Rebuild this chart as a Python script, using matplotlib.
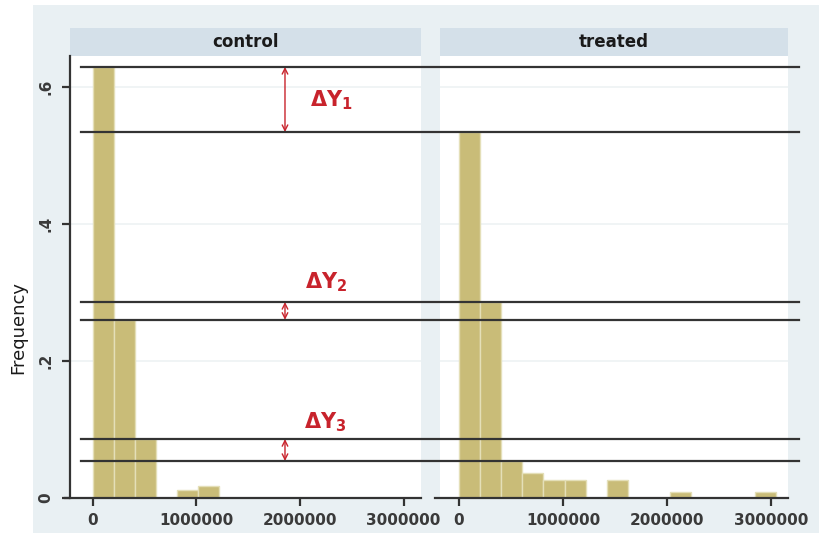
import matplotlib

matplotlib.use("Agg")
import matplotlib.pyplot as plt
from matplotlib.patches import Rectangle, FancyArrowPatch
from matplotlib.lines import Line2D
from matplotlib.transforms import blended_transform_factory

# histogram data (bin width)
bin_width = 203000
control_freq = [0.629, 0.260, 0.086, 0.0, 0.011, 0.017]
treated_freq = [0.534, 0.286, 0.054, 0.036, 0.026, 0.026, 0.0, 0.026,
                0.0, 0.0, 0.009, 0.0, 0.0, 0.0, 0.009]
panel_titles = ["control", "treated"]
x_ticks = [0, 1000000, 2000000, 3000000]
y_ticks = [0, 0.2, 0.4, 0.6]
y_ticklabels = ["0", ".2", ".4", ".6"]

# pairs of reference levels: (control bar, treated bar)
ref_pairs = [(control_freq[0], treated_freq[0]),
             (treated_freq[1], control_freq[1]),
             (control_freq[2], treated_freq[2])]
delta_labels = [r"$\mathbf{\Delta Y_1}$", r"$\mathbf{\Delta Y_2}$", r"$\mathbf{\Delta Y_3}$"]

W, H = 819, 533
BG = "#e9f0f3"
STRIP = "#d4e0e9"
BAR = "#c9bc78"
RED = "#c8232c"
DARK = "#333333"

fig = plt.figure(figsize=(W / 100, H / 100), dpi=100)
fig.patch.set_facecolor("white")
fig.patches.append(Rectangle((33 / W, 0), 1 - 33 / W, (H - 5) / H,
                             transform=fig.transFigure, facecolor=BG,
                             edgecolor="none", zorder=-10))

ax_bottom = (H - 498) / H
ax_height = (498 - 56) / H
ax1 = fig.add_axes([70 / W, ax_bottom, 351 / W, ax_height])
ax2 = fig.add_axes([440 / W, ax_bottom, 348 / W, ax_height])
ax1.set_xlim(-0.222e6, 3.169e6)
ax2.set_xlim(-0.183e6, 3.163e6)

for ax, freq, title in zip([ax1, ax2], [control_freq, treated_freq], panel_titles):
    edges = [i * bin_width for i in range(len(freq))]
    ax.bar(edges, freq, width=bin_width, align="edge", color=BAR,
           edgecolor="#e4dfb8", linewidth=1.0, zorder=2)
    ax.set_ylim(0, 0.645)
    ax.set_facecolor("white")
    for yt in y_ticks[1:]:
        ax.axhline(yt, color="#edf2f4", lw=1.2, zorder=1)
    for s in ["top", "right"]:
        ax.spines[s].set_visible(False)
    ax.spines["bottom"].set_color(DARK)
    ax.spines["bottom"].set_linewidth(1.6)
    ax.spines["bottom"].set_bounds(ax.get_xlim()[0] - 0.05e6, ax.get_xlim()[1])
    ax.set_xticks(x_ticks)
    ax.set_xticklabels([str(t) for t in x_ticks])
    ax.tick_params(axis="x", length=6, width=1.6, color=DARK, pad=5,
                   labelsize=11, labelcolor="#3a3a3a")
    for lab in ax.get_xticklabels():
        lab.set_fontweight("bold")
    # strip header
    ax.add_patch(Rectangle((0, 1), 1, 28 / 442, transform=ax.transAxes,
                           facecolor=STRIP, edgecolor="none", clip_on=False))
    ax.text(0.5, 1 + 14 / 442, title, transform=ax.transAxes, ha="center",
            va="center", fontsize=12, fontweight="bold", color="#1a1a1a")

ax1.spines["left"].set_color(DARK)
ax1.spines["left"].set_linewidth(1.6)
ax1.set_yticks(y_ticks)
ax1.set_yticklabels(y_ticklabels, rotation=90, va="center")
ax1.tick_params(axis="y", length=6, width=1.6, color=DARK, pad=6,
                labelsize=11, labelcolor="#3a3a3a")
for lab in ax1.get_yticklabels():
    lab.set_fontweight("bold")
ax2.spines["left"].set_visible(False)
ax2.set_yticks([])

fig.text(18 / W, (H - 327) / H, "Frequency", rotation=90, ha="center",
         va="center", fontsize=13, color="#1a1a1a")

# horizontal reference lines running across both panels
trans = blended_transform_factory(fig.transFigure, ax1.transData)
for pair in ref_pairs:
    for level in pair:
        fig.lines.append(Line2D([81 / W, 799 / W], [level, level], transform=trans,
                                color=DARK, lw=1.6, zorder=5))

# delta arrows and labels
arrow_x = 1.855e6
text_pos = [(2.10e6, 0.581), (2.05e6, 0.315), (2.04e6, 0.111)]
for (hi, lo), lab, (tx, ty) in zip(ref_pairs, delta_labels, text_pos):
    ax1.add_patch(FancyArrowPatch((arrow_x, lo), (arrow_x, hi), arrowstyle="<->",
                                  mutation_scale=10, color=RED, lw=1.0,
                                  shrinkA=0, shrinkB=0, clip_on=False, zorder=6))
    ax1.text(tx, ty, lab, ha="left", va="center", fontsize=15, color=RED, zorder=6)

fig.savefig("out.png", dpi=100, facecolor=fig.get_facecolor())
